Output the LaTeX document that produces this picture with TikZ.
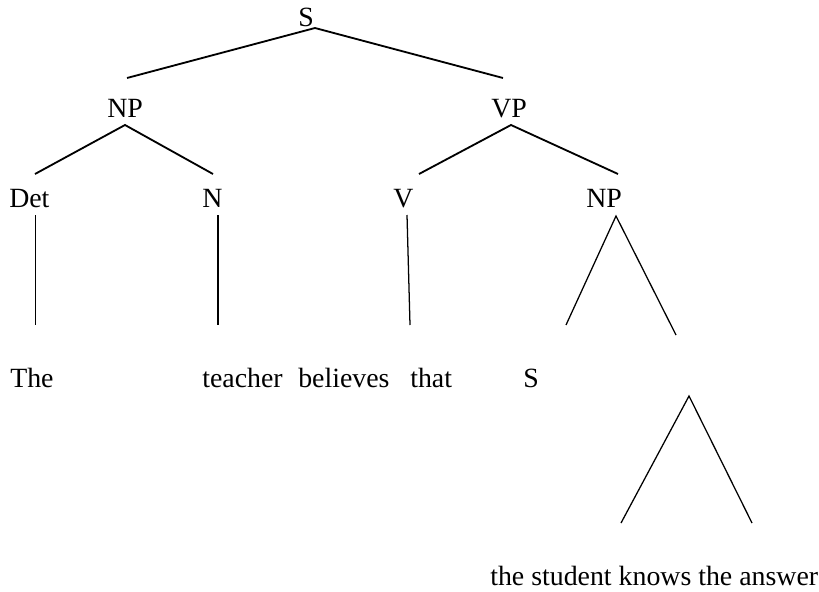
\documentclass[tikz,border=0pt]{standalone}
\usepackage{fontspec}
\setmainfont{Liberation Serif}
\begin{document}
\begin{tikzpicture}[x=0.025cm, y=-0.025cm,
    cat/.style={inner sep=0pt, anchor=base west,
        font=\fontsize{19.8}{24}\selectfont},
    branch/.style={line width=1.3pt},
    stem/.style={line width=0.9pt}]
\useasboundingbox (0,0) rectangle (819,591);
% labels
\node[cat] (s) at (298,27) {S};
\node[cat] (np1) at (107,117) {NP};
\node[cat] (vp) at (491,117) {VP};
\node[cat] (det) at (9,207) {Det};
\node[cat] (n) at (202,207) {N};
\node[cat] (v) at (393,207) {V};
\node[cat] (np2) at (586,207) {NP};
\node[cat] (the) at (10,387) {The};
\node[cat] (teacher) at (202,387) {teacher};
\node[cat] (believes) at (298,387) {believes};
\node[cat] (that) at (410,387) {that};
\node[cat] (s2) at (523,387) {S};
\node[cat] (phrase) at (490,585) {the student knows the answer};
% branch ends
\coordinate (s-a) at (315,28);
\coordinate (s-l) at (127,78);
\coordinate (s-r) at (503,78);
\coordinate (np1-a) at (125,125);
\coordinate (np1-l) at (35,174);
\coordinate (np1-r) at (213,174);
\coordinate (vp-a) at (511,125);
\coordinate (vp-l) at (419,174);
\coordinate (vp-r) at (618,174);
\coordinate (det-t) at (35.5,215);
\coordinate (det-b) at (35.5,325);
\coordinate (n-t) at (218,215);
\coordinate (n-b) at (218,325);
\coordinate (v-t) at (407,215);
\coordinate (v-b) at (410,325);
\coordinate (np2-a) at (616,216);
\coordinate (np2-l) at (566,325);
\coordinate (np2-r) at (676,335);
\coordinate (tri-a) at (689,396);
\coordinate (tri-l) at (621,523);
\coordinate (tri-r) at (752,523);
\draw[branch] (s-l) -- (s-a) -- (s-r);
\draw[branch] (np1-l) -- (np1-a) -- (np1-r);
\draw[branch] (vp-l) -- (vp-a) -- (vp-r);
\draw[stem] (det-t) -- (det-b);
\draw[stem] (n-t) -- (n-b);
\draw[stem] (v-t) -- (v-b);
\draw[stem] (np2-l) -- (np2-a) -- (np2-r);
\draw[stem] (tri-l) -- (tri-a) -- (tri-r);
\end{tikzpicture}
\end{document}
